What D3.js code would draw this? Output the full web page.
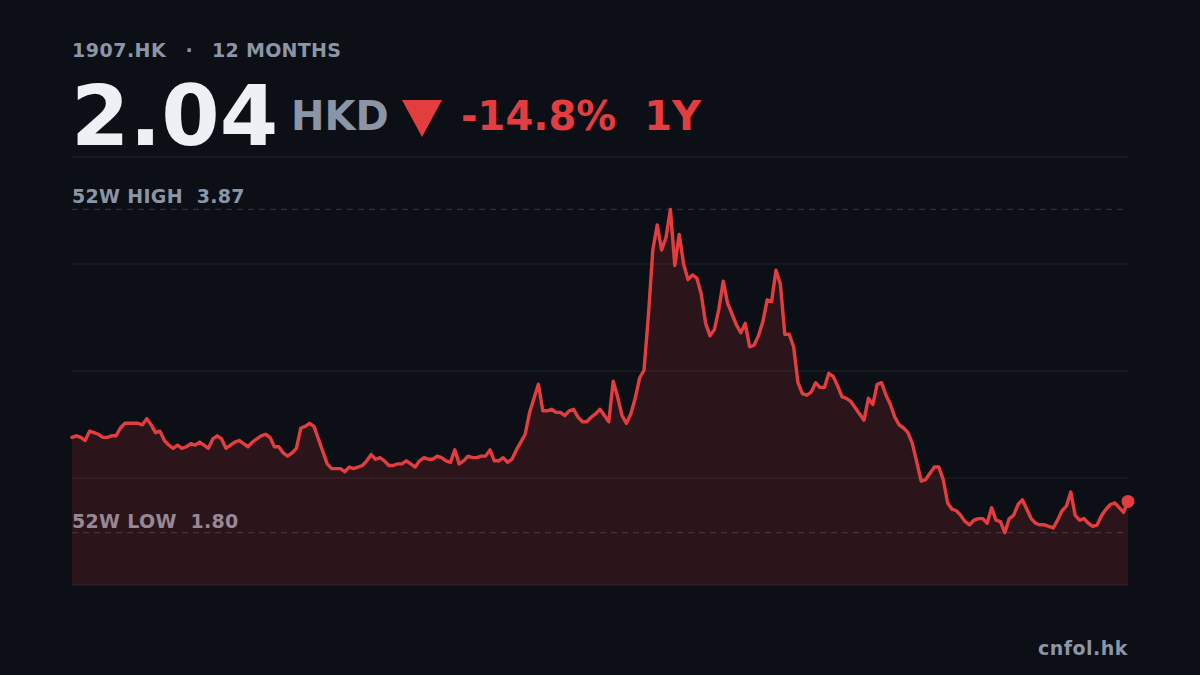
<!DOCTYPE html>
<html>
<head>
<meta charset="utf-8">
<script src="https://cdn.jsdelivr.net/npm/d3@7"></script>
<style>
  html, body { margin: 0; padding: 0; background: #0c0f15; }
  svg { display: block; }
  text { font-family: "DejaVu Sans", sans-serif; font-weight: bold; white-space: pre; }
</style>
</head>
<body>
<svg id="chart" width="1200" height="675"></svg>
<script>
// ---- data ----
const ticker = "1907.HK";
const period = "12 MONTHS";
const lastPriceLabel = "2.04";
const currency = "HKD";
const changeLabel = "-14.8%";
const rangeLabel = "1Y";
const high52Label = "3.87";
const low52Label = "1.80";
const source = "cnfol.hk";

// daily closes over 12 months
const prices = [
  2.41, 2.42, 2.41, 2.39, 2.45, 2.44, 2.43, 2.41, 2.41, 2.42,
  2.42, 2.47, 2.50, 2.50, 2.50, 2.50, 2.49, 2.53, 2.49, 2.44,
  2.45, 2.39, 2.36, 2.34, 2.36, 2.34, 2.35, 2.37, 2.36, 2.38,
  2.36, 2.34, 2.40, 2.42, 2.40, 2.34, 2.36, 2.38, 2.39, 2.37,
  2.35, 2.38, 2.40, 2.42, 2.43, 2.41, 2.35, 2.35, 2.31, 2.29,
  2.31, 2.34, 2.47, 2.48, 2.50, 2.48, 2.40, 2.32, 2.24, 2.21,
  2.21, 2.21, 2.19, 2.22, 2.21, 2.22, 2.23, 2.26, 2.30, 2.27,
  2.28, 2.26, 2.23, 2.23, 2.24, 2.24, 2.26, 2.24, 2.22, 2.26,
  2.28, 2.27, 2.27, 2.29, 2.28, 2.26, 2.25, 2.33, 2.24, 2.26,
  2.29, 2.28, 2.28, 2.29, 2.29, 2.33, 2.26, 2.26, 2.28, 2.25,
  2.27, 2.33, 2.38, 2.43, 2.57, 2.66, 2.75, 2.58, 2.58, 2.59,
  2.57, 2.57, 2.55, 2.58, 2.59, 2.54, 2.51, 2.51, 2.54, 2.56,
  2.59, 2.55, 2.51, 2.77, 2.67, 2.55, 2.50, 2.56, 2.66, 2.79,
  2.84, 3.19, 3.61, 3.77, 3.61, 3.69, 3.87, 3.51, 3.71, 3.52,
  3.42, 3.45, 3.43, 3.33, 3.14, 3.06, 3.10, 3.23, 3.41, 3.27,
  3.20, 3.13, 3.08, 3.14, 2.99, 3.00, 3.06, 3.15, 3.29, 3.28,
  3.48, 3.39, 3.07, 3.07, 2.99, 2.76, 2.69, 2.68, 2.70, 2.76,
  2.73, 2.73, 2.82, 2.80, 2.74, 2.67, 2.66, 2.64, 2.60, 2.56,
  2.52, 2.66, 2.62, 2.75, 2.76, 2.68, 2.62, 2.54, 2.49, 2.47,
  2.44, 2.37, 2.25, 2.13, 2.14, 2.18, 2.22, 2.22, 2.14, 1.99,
  1.95, 1.94, 1.91, 1.87, 1.85, 1.88, 1.89, 1.89, 1.86, 1.96,
  1.88, 1.87, 1.80, 1.89, 1.91, 1.98, 2.01, 1.95, 1.89, 1.86,
  1.85, 1.85, 1.84, 1.83, 1.88, 1.94, 1.97, 2.06, 1.91, 1.88,
  1.89, 1.86, 1.84, 1.85, 1.91, 1.95, 1.98, 1.99, 1.96, 1.93, 2.00
];

// ---- styles ----
const C = {
  bg: "#0c0f15",
  grid: "#1d222b",
  dash: "#2b303a",
  gray: "#8b95a5",
  white: "#eef0f6",
  red: "#e33d3f"
};

const svg = d3.select("#chart");
svg.append("rect").attr("width", 1200).attr("height", 675).attr("fill", C.bg);

const plotL = 72, plotR = 1128, plotT = 157, plotB = 585;
const lo = d3.min(prices), hi = d3.max(prices);
const pad = (hi - lo) * 0.162;

const x = d3.scaleLinear().domain([0, prices.length - 1]).range([plotL, plotR]);
const y = d3.scaleLinear().domain([lo - pad, hi + pad]).range([plotB, plotT]);

// gridlines: quarter divisions of the plot
const [d0, d1] = y.domain();
const gridVals = d3.range(5).map(k => d0 + k * (d1 - d0) / 4);
svg.append("g").selectAll("line").data(gridVals).join("line")
  .attr("x1", plotL).attr("x2", plotR)
  .attr("y1", d => y(d)).attr("y2", d => y(d))
  .attr("stroke", C.grid).attr("stroke-width", 1.2);

// 52W lines
svg.append("g").selectAll("line").data([hi, lo]).join("line")
  .attr("x1", plotL).attr("x2", plotR)
  .attr("y1", d => y(d)).attr("y2", d => y(d))
  .attr("stroke", C.dash).attr("stroke-width", 1.2)
  .attr("stroke-dasharray", "6,5");

// 52W labels
svg.append("text").attr("x", plotL).attr("y", y(hi) - 6)
  .attr("font-size", 19).attr("letter-spacing", 0.3).attr("fill", C.gray)
  .text("52W HIGH  " + high52Label);
svg.append("text").attr("x", plotL).attr("y", y(lo) - 5)
  .attr("font-size", 19).attr("letter-spacing", 0.3).attr("fill", C.gray)
  .text("52W LOW  " + low52Label);

// area
const area = d3.area()
  .x((d, i) => x(i)).y0(plotB).y1(d => y(d));
svg.append("path").datum(prices).attr("d", area)
  .attr("fill", C.red).attr("fill-opacity", 0.15);

// line
const line = d3.line().x((d, i) => x(i)).y(d => y(d));
svg.append("path").datum(prices).attr("d", line)
  .attr("fill", "none").attr("stroke", C.red)
  .attr("stroke-width", 3.4).attr("stroke-linejoin", "round").attr("stroke-linecap", "round");

// end dot
svg.append("circle")
  .attr("cx", x(prices.length - 1)).attr("cy", y(prices[prices.length - 1]))
  .attr("r", 6.5).attr("fill", C.red);

// header
svg.append("text").attr("x", plotL).attr("y", 57)
  .attr("font-size", 19).attr("letter-spacing", 0.5).attr("fill", C.gray)
  .text(ticker);
svg.append("text").attr("x", 189).attr("y", 57).attr("text-anchor", "middle")
  .attr("font-size", 19).attr("fill", C.gray)
  .text("·");
svg.append("text").attr("x", 212).attr("y", 57)
  .attr("font-size", 19).attr("letter-spacing", 0.3).attr("fill", C.gray)
  .text(period);

svg.append("text").attr("x", 71).attr("y", 145)
  .attr("font-size", 84).attr("fill", C.white)
  .text(lastPriceLabel);

svg.append("text").attr("x", 291).attr("y", 130)
  .attr("font-size", 40).attr("fill", C.gray)
  .text(currency);

// down triangle
const tri = d3.path();
tri.moveTo(402, 100); tri.lineTo(442, 100); tri.lineTo(422, 137); tri.closePath();
svg.append("path").attr("d", tri.toString()).attr("fill", C.red);

svg.append("text").attr("x", 461).attr("y", 130)
  .attr("font-size", 40).attr("fill", C.red)
  .text(changeLabel + "  " + rangeLabel);

// source
svg.append("text").attr("x", plotR).attr("y", 655)
  .attr("text-anchor", "end")
  .attr("font-size", 19).attr("letter-spacing", 0.5).attr("fill", C.gray)
  .text(source);
</script>
</body>
</html>
